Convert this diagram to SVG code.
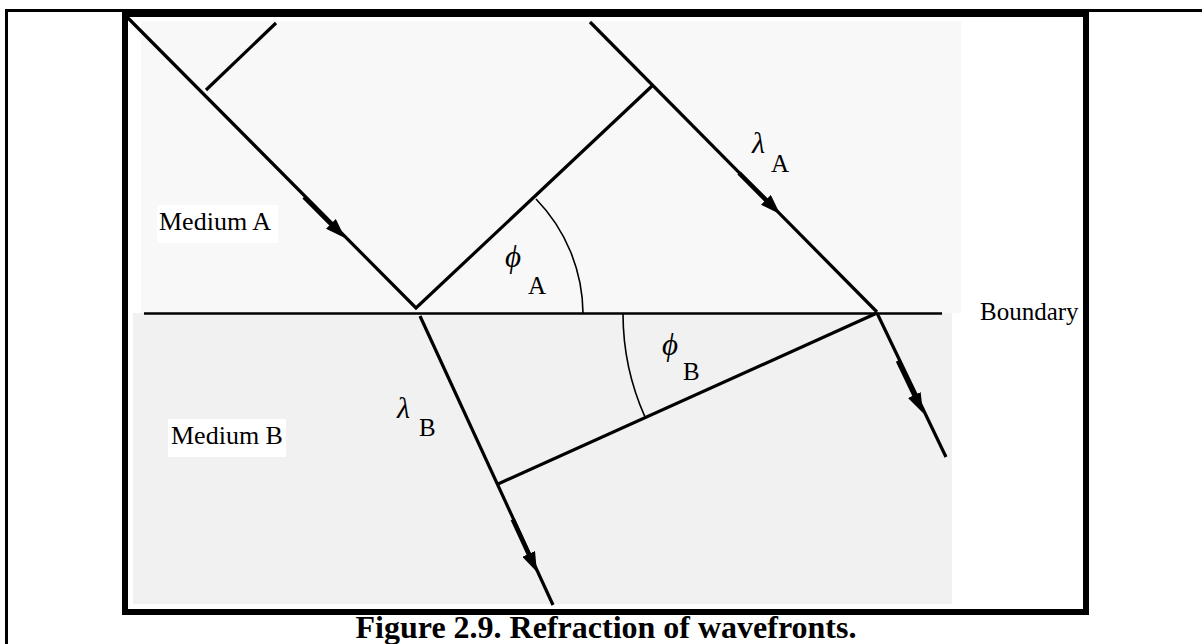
<svg xmlns="http://www.w3.org/2000/svg" width="1202" height="644" viewBox="0 0 1202 644">
<style>
.ray{stroke:#000;stroke-width:3.2;fill:none;stroke-linecap:butt}
.wf{stroke:#000;stroke-width:3.2;fill:none}
.arc{stroke:#000;stroke-width:1.6;fill:none}
.shaft{stroke:#000;stroke-width:4.5;fill:none;marker-end:url(#ah)}
.lbl{font-family:"Liberation Serif","Times New Roman",serif;fill:#000}
.greek{font-family:"Liberation Serif","DejaVu Serif",serif;font-style:italic;fill:#000}
.cap{font-family:"Liberation Serif","Times New Roman",serif;font-weight:bold;font-size:32px;fill:#000}
</style>
<defs>
<marker id="ah" markerUnits="userSpaceOnUse" markerWidth="20" markerHeight="14" refX="5" refY="7" orient="auto" viewBox="0 0 20 14">
<path d="M0,0 L20,7 L0,14 Z" fill="#000"/>
</marker>
</defs>
<rect x="0" y="0" width="1202" height="644" fill="#fff"/>
<g id="outer-frame">
<line x1="6.5" y1="9" x2="6.5" y2="644" stroke="#000" stroke-width="3"/>
<line x1="5" y1="10.5" x2="1202" y2="10.5" stroke="#000" stroke-width="3"/>
</g>
<g id="medium-a-region"><rect x="141" y="21" width="820" height="292" fill="#f8f8f8"/></g>
<g id="medium-b-region"><rect x="133" y="313" width="819" height="291" fill="#f1f1f1"/></g>
<g id="frame"><rect x="125" y="14" width="961" height="598" fill="none" stroke="#000" stroke-width="6"/></g>
<g id="boundary"><line x1="144" y1="313.5" x2="942" y2="313.5" stroke="#000" stroke-width="2.5"/></g>
<g id="connectors">
<polyline class="ray" points="127,17 416,308 652,86" stroke-linejoin="miter"/>
<line class="wf" x1="206" y1="90" x2="276" y2="23"/>
<line class="ray" x1="590" y1="22" x2="877" y2="312"/>
<line class="ray" x1="420" y1="316" x2="553" y2="605"/>
<line class="ray" x1="877" y1="313" x2="946" y2="457"/>
<line class="wf" x1="877" y1="313" x2="498" y2="484"/>
<path class="arc" d="M536,199 A166,166 0 0,1 583,313"/>
<path class="arc" d="M623,314 A254,254 0 0,0 645,417"/>
<line class="shaft" x1="304" y1="197" x2="334.4" y2="227.4"/>
<line class="shaft" x1="739" y1="173" x2="769.4" y2="203.4"/>
<line class="shaft" x1="512.7" y1="519.3" x2="530.7" y2="558.4"/>
<line class="shaft" x1="897.9" y1="360.7" x2="916.5" y2="399.5"/>
</g>
<g id="label-medium-a">
<rect x="157" y="205" width="121" height="38" fill="#fff"/>
<text class="lbl" x="159" y="230" font-size="26">Medium A</text>
</g>
<g id="label-medium-b">
<rect x="168" y="419" width="118" height="38" fill="#fff"/>
<text class="lbl" x="171" y="444" font-size="26">Medium B</text>
</g>
<g id="label-boundary"><text class="lbl" x="980" y="320" font-size="25">Boundary</text></g>
<g id="label-phi-a">
<text class="greek" x="505" y="267" font-size="31">ϕ</text>
<text class="lbl" x="528" y="294" font-size="25">A</text>
</g>
<g id="label-lambda-a">
<text class="greek" x="752" y="153" font-size="30">λ</text>
<text class="lbl" x="771" y="172" font-size="25">A</text>
</g>
<g id="label-phi-b">
<text class="greek" x="662" y="355" font-size="31">ϕ</text>
<text class="lbl" x="683" y="380" font-size="25">B</text>
</g>
<g id="label-lambda-b">
<text class="greek" x="397" y="418" font-size="30">λ</text>
<text class="lbl" x="419" y="436" font-size="25">B</text>
</g>
<g id="caption"><text class="cap" x="606" y="638" text-anchor="middle">Figure 2.9. Refraction of wavefronts.</text></g>
</svg>
